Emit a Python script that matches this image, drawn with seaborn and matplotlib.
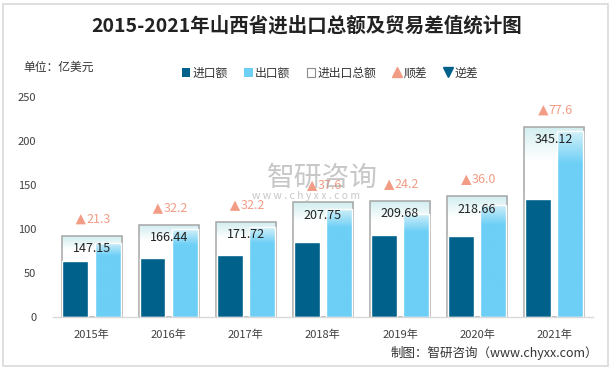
import numpy as np
import pandas as pd
import seaborn as sns
import matplotlib.pyplot as plt
from matplotlib.colors import LinearSegmentedColormap
from matplotlib.lines import Line2D
from matplotlib.patches import Patch, Rectangle

years = ['2015年', '2016年', '2017年', '2018年', '2019年', '2020年', '2021年']
imports = [62.9, 67.1, 69.8, 85.1, 92.7, 91.3, 133.8]
exports = [84.2, 99.3, 102.0, 122.7, 117.0, 127.3, 211.4]
totals = [147.15, 166.44, 171.72, 207.75, 209.68, 218.66, 345.12]
surplus = [21.3, 32.2, 32.2, 37.6, 24.2, 36.0, 77.6]

dark = '#00618a'
light = '#6dcff6'
salmon = '#f29c85'

sns.set_style('white')
plt.rcParams['font.family'] = ['Noto Sans CJK SC', 'DejaVu Sans']

fig = plt.figure(figsize=(6.13, 3.70), dpi=100)
pos = [0.0865, 0.144, 0.8805, 0.595]
ax_back = fig.add_axes(pos)   # total bars, hidden 0-400 scale
ax = fig.add_axes(pos)        # import / export, visible 0-250 scale
ax_top = fig.add_axes(pos)    # surplus markers and labels
for a in (ax, ax_top):
    a.patch.set_visible(False)


def gradient_fill(axis, patch, top_color, bottom_color, frac):
    # paint a vertical gradient on the top part of a bar
    x0, w, h = patch.get_x(), patch.get_width(), patch.get_height()
    n = 200
    ys = np.linspace(h, 0, n)
    g0 = h * (1 - frac)
    vals = np.clip((ys - g0) / (h - g0), 0, 1)
    cmap = LinearSegmentedColormap.from_list('g', [bottom_color, top_color])
    im = axis.imshow(vals[:, None], cmap=cmap, vmin=0, vmax=1, aspect='auto',
                     extent=[x0, x0 + w, 0, h], zorder=patch.get_zorder() - 0.1,
                     interpolation='bilinear')
    im.set_clip_path(patch)
    patch.set_facecolor('none')


# total bars (behind)
tot = pd.DataFrame({'year': years, 'total': totals})
sns.barplot(data=tot, x='year', y='total', color='white', width=0.78,
            edgecolor='#a6a6a6', linewidth=1.1, saturation=1, ax=ax_back)
for p in ax_back.patches:
    gradient_fill(ax_back, p, '#d3eef0', '#ffffff', 0.17)
ax_back.set_ylim(0, 400)
ax_back.set_xlim(-0.5, 6.5)
ax_back.axis('off')

# import / export bars
df = pd.DataFrame({'year': years, '进口额': imports, '出口额': exports})
long = df.melt(id_vars='year', var_name='kind', value_name='value')
sns.barplot(data=long, x='year', y='value', hue='kind', palette=[dark, light],
            width=0.84, gap=0.2, saturation=1, legend=False, ax=ax)
for p in ax.patches[len(years):]:
    gradient_fill(ax, p, '#d4f0f8', light, 0.18)
ax.set_ylim(0, 250)
ax.set_xlim(-0.5, 6.5)
ax.set_yticks(range(0, 251, 50))
ax.set_xlabel('')
ax.set_ylabel('')
ax.tick_params(axis='y', labelsize=8, labelcolor='#404040', length=0, pad=12)
ax.tick_params(axis='x', labelsize=8, labelcolor='#404040', length=0, pad=9)
for s in ('top', 'right', 'left'):
    ax.spines[s].set_visible(False)
ax.spines['bottom'].set_color('#d9d9d9')
ax.spines['bottom'].set_linewidth(1)

# surplus markers and labels
xs = np.arange(len(years))
ax_top.set_ylim(0, 400)
ax_top.set_xlim(-0.5, 6.5)
ax_top.axis('off')
sns.scatterplot(x=xs - 0.14, y=np.array(totals) + 30, marker='^', s=55,
                color=salmon, edgecolor='none', ax=ax_top, zorder=5)
for i, (t, s) in enumerate(zip(totals, surplus)):
    ax_top.text(i - 0.07, t + 30, f'{s:.1f}', ha='left', va='center',
                fontsize=9, color=salmon, zorder=5)
    ax_top.text(i, t - 23, f'{t:.2f}', ha='center', va='center',
                fontsize=9, color='#222222', zorder=5)

# watermark
fig.text(322 / 613, 1 - 178 / 370, '智研咨询', fontsize=20, color='#9a9a9a',
         alpha=0.55, ha='center', va='center', zorder=10)
fig.text(306 / 613, 1 - 196 / 370, 'w w w . c h y x x . c o m', fontsize=7.5,
         color='#9a9a9a', alpha=0.55, ha='center', va='center', zorder=10)

# title, unit, footer
fig.text(0.5, 1 - 26 / 370, '2015-2021年山西省进出口总额及贸易差值统计图',
         fontsize=14, fontweight='bold', color='#222222', ha='center', va='center')
fig.text(23 / 613, 1 - 67 / 370, '单位：亿美元', fontsize=8.5, color='#333333',
         ha='left', va='center')
fig.text(598 / 613, 1 - 353 / 370, '制图：智研咨询（www.chyxx.com）', fontsize=9,
         color='#333333', ha='right', va='center')

handles = [
    Patch(facecolor=dark, edgecolor='none', label='进口额'),
    Patch(facecolor=light, edgecolor='none', label='出口额'),
    Patch(facecolor='white', edgecolor='#8c8c8c', linewidth=0.8, label='进出口总额'),
    Line2D([], [], marker='^', color=salmon, linestyle='none', markersize=7, label='顺差'),
    Line2D([], [], marker='v', color=dark, linestyle='none', markersize=7, label='逆差'),
]
fig.legend(handles=handles, loc='center', bbox_to_anchor=(0.538, 1 - 73 / 370),
           ncol=5, frameon=False, fontsize=8.5, handlelength=0.7, handleheight=0.7,
           handletextpad=0.2, columnspacing=1.4, labelcolor='#333333')

# outer frame
fig.patches.append(Rectangle((3 / 613, 4 / 370), 605 / 613, 362 / 370,
                             transform=fig.transFigure, fill=False,
                             edgecolor='#d9d9d9', linewidth=1.2))

fig.savefig('out.png', dpi=100)
